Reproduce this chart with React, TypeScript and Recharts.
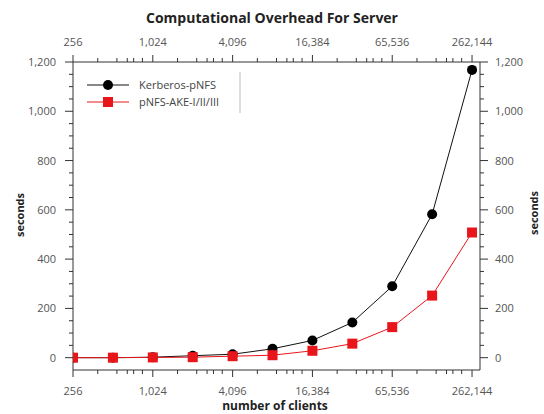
import React from 'react';
import { LineChart, Line, XAxis, YAxis } from 'recharts';

const clients = [256, 512, 1024, 2048, 4096, 8192, 16384, 32768, 65536, 131072, 262144];
const kerberos = [0, 0, 2, 8, 14, 36, 70, 143, 290, 582, 1168];
const pnfsAke = [0, 0, 1, 2, 6, 10, 28, 57, 124, 252, 508];
const majorX = [256, 1024, 4096, 16384, 65536, 262144];
const majorY = [0, 200, 400, 600, 800, 1000, 1200];

const minorFractions = [0.31, 0.55, 0.68, 0.76, 0.87];
const xTicks: number[] = [];
majorX.forEach((b, i) => {
  xTicks.push(b);
  if (i < majorX.length - 1) minorFractions.forEach((f) => xTicks.push(b * Math.pow(4, f)));
});
const yTicks: number[] = [];
for (let v = 0; v <= 1200; v += 50) yTicks.push(v);

const data = clients.map((c, i) => ({ c, kerberos: kerberos[i], pnfs: pnfsAke[i] }));

const fmt = (v: number) => v.toLocaleString('en-US');
const FONT = '"Open Sans", sans-serif';
const AX = '#333';
const LBL = '#555';

const makeXTick = (orient: 'top' | 'bottom') => (props: any) => {
  const { x, y, payload } = props;
  const v = payload.value;
  const major = majorX.some((m) => Math.abs(m - v) < 1e-6);
  const dir = orient === 'bottom' ? 1 : -1;
  const len = major ? 7 : 4;
  return (
    <g>
      <line x1={x} x2={x} y1={y} y2={y + dir * len} stroke={AX} strokeWidth={1} />
      {major && (
        <text x={x} y={orient === 'bottom' ? y + 25 : y - 16} textAnchor="middle" fontSize={11} fill={LBL} fontFamily={FONT}>
          {fmt(v)}
        </text>
      )}
    </g>
  );
};

const makeYTick = (orient: 'left' | 'right') => (props: any) => {
  const { x, y, payload } = props;
  const v = payload.value;
  const major = majorY.includes(v);
  const dir = orient === 'left' ? -1 : 1;
  const len = major ? 8 : 4;
  return (
    <g>
      <line x1={x} x2={x + dir * len} y1={y} y2={y} stroke={AX} strokeWidth={1} />
      {major && (
        <text x={orient === 'left' ? x - 17 : x + 15} y={y + 4} textAnchor={orient === 'left' ? 'end' : 'start'} fontSize={11} fill={LBL} fontFamily={FONT}>
          {fmt(v)}
        </text>
      )}
    </g>
  );
};

const Square = (props: any) => {
  const { cx, cy } = props;
  if (cx == null || cy == null) return null;
  return <rect x={cx - 5} y={cy - 5} width={10} height={10} fill="#e8161b" />;
};
const Dot = (props: any) => {
  const { cx, cy } = props;
  if (cx == null || cy == null) return null;
  return <circle cx={cx} cy={cy} r={5} fill="#000" />;
};

export default function App() {
  return (
    <div style={{ position: 'absolute', left: 0, top: 0, width: 544, height: 414, background: '#fff' }}>
      <LineChart width={544} height={414} data={data} margin={{ top: 32, right: 14, bottom: 14, left: 23 }}>
        <XAxis xAxisId="b" dataKey="c" type="number" scale="log" domain={[256, 301000]} allowDataOverflow
          ticks={xTicks} interval={0} orientation="bottom" height={30} tickSize={0} tickMargin={0}
          tick={makeXTick('bottom')} stroke={AX} />
        <XAxis xAxisId="t" dataKey="c" type="number" scale="log" domain={[256, 301000]} allowDataOverflow
          ticks={xTicks} interval={0} orientation="top" height={30} tickSize={0} tickMargin={0}
          tick={makeXTick('top')} stroke={AX} />
        <YAxis yAxisId="l" type="number" domain={[-50, 1200]} allowDataOverflow ticks={yTicks} interval={0}
          orientation="left" width={50} tickSize={0} tickMargin={0} tick={makeYTick('left')} stroke={AX} />
        <YAxis yAxisId="r" type="number" domain={[-50, 1200]} allowDataOverflow ticks={yTicks} interval={0}
          orientation="right" width={50} tickSize={0} tickMargin={0} tick={makeYTick('right')} stroke={AX} />
        <Line xAxisId="b" yAxisId="l" dataKey="kerberos" stroke="#111" strokeWidth={1} dot={<Dot />} isAnimationActive={false} />
        <Line xAxisId="b" yAxisId="l" dataKey="pnfs" stroke="#e8161b" strokeWidth={1} dot={<Square />} isAnimationActive={false} />
        <text x={272} y={23} textAnchor="middle" fontSize={14} fontWeight="bold" fill="#222" fontFamily={FONT}>
          Computational Overhead For Server
        </text>
        <text x={275} y={410} textAnchor="middle" fontSize={12} fontWeight="bold" fill="#222" fontFamily={FONT}>
          number of clients
        </text>
        <text x={24} y={215} textAnchor="middle" fontSize={11} fontWeight="bold" fill="#222" fontFamily={FONT} transform="rotate(-90 24 215)">
          seconds
        </text>
        <text x={538} y={213} textAnchor="middle" fontSize={11} fontWeight="bold" fill="#222" fontFamily={FONT} transform="rotate(-90 538 213)">
          seconds
        </text>
        <line x1={240} x2={240} y1={72} y2={113} stroke="#bbb" strokeWidth={1} />
        <line x1={87} x2={129} y1={85} y2={85} stroke="#111" strokeWidth={1} />
        <circle cx={108} cy={85} r={5} fill="#000" />
        <text x={139} y={89} fontSize={11} fill="#444" fontFamily={FONT}>Kerberos-pNFS</text>
        <line x1={87} x2={129} y1={102} y2={102} stroke="#e8161b" strokeWidth={1} />
        <rect x={103} y={97} width={10} height={10} fill="#e8161b" />
        <text x={139} y={106} fontSize={11} fill="#444" fontFamily={FONT}>pNFS-AKE-I/II/III</text>
      </LineChart>
    </div>
  );
}
